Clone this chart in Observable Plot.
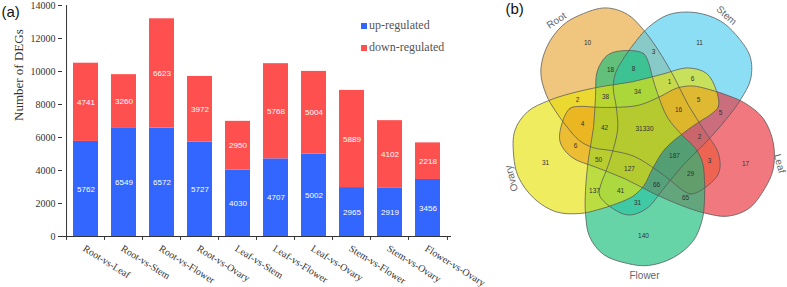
<!DOCTYPE html>
<html><head><meta charset="utf-8">
<script src="https://cdn.jsdelivr.net/npm/d3@7"></script>
<script src="https://cdn.jsdelivr.net/npm/@observablehq/plot@0.6"></script>
<style>
body{margin:0;background:#fff;}
#wrap{position:relative;width:787px;height:287px;overflow:hidden;background:#fff;}
#wrap svg{position:absolute;top:0;overflow:visible;}
.leg{position:absolute;font-family:'Liberation Serif','Times New Roman',serif;font-size:12px;line-height:12px;color:#555;white-space:nowrap;}
.sw{position:absolute;width:6px;height:6px;}
</style></head><body><div id="wrap"></div>
<script>
// ---------- data ----------
const comparisons = ["Root-vs-Leaf","Root-vs-Stem","Root-vs-Flower","Root-vs-Ovary","Leaf-vs-Stem","Leaf-vs-Flower","Leaf-vs-Ovary","Stem-vs-Flower","Stem-vs-Ovary","Flower-vs-Ovary"];
const upRegulated = [5762,6549,6572,5727,4030,4707,5002,2965,2919,3456];
const downRegulated = [4741,3260,6623,3972,2950,5768,5004,5889,4102,2218];
const regulationLabels = ["up-regulated","down-regulated"];
const yTicks = [0,2000,4000,6000,8000,10000,12000,14000];

const vennSets = ["Root","Stem","Leaf","Flower","Ovary"];
const vennCounts = [10,11,17,140,31,3,18,8,1,6,2,38,34,5,16,5,4,42,31330,2,6,50,127,187,3,29,137,41,66,65,31];

// ---------- layout (positions / geometry / styles) ----------
const vennLabelXY = [[587,42],[699,42],[745,163],[643,235],[545,162],[653,51],[610,69],[633,68],[669,81],[692,78],[577,99],[605,96],[637,91],[698,99],[678,109],[720,112],[582,123],[604,127],[644,128],[699,136],[575,145],[598,159],[629,168],[674,155],[709,160],[690,173],[594,190],[620,190],[656,184],[685,197],[637,202]];
const vennSetLabelXY = [[556,20,-34],[726,15,42],[779,163,75],[644,275,0],[511,178,-105]];
const vennColors = ["#E8A637","#4ECCF0","#EB2F3C","#15BD79","#E8E209"];
const vennAlpha = 0.65;
const vennCenter = [644, 131];
// outline of one petal (the Flower one) in page pixels; the other four are 72° rotations of it about vennCenter
const petal = [[627,50],[643,53],[648,62],[652,77],[657,93],[667,117],[682,135],[695,148],[702,162],[704,180],[704,200],[702,218],[693,240],[673,257],[648,265],[627,263],[603,254],[589,236],[585,213],[585,190],[588,158],[593,127],[595,96],[597,70],[608,54]];
const rotIndex = {Flower:0, Ovary:1, Root:2, Stem:3, Leaf:4};

const serif = "'Liberation Serif','Times New Roman',serif";
const sans = "'Liberation Sans',Arial,sans-serif";
const H = 287, W1 = 520, ML = 62, MR = 69, MT = 5, MB = 51;
const half = (W1 - ML - MR) / comparisons.length / 2;

const rows = comparisons.flatMap((c, i) => [
  {comparison: c, type: regulationLabels[0], value: upRegulated[i], base: 0},
  {comparison: c, type: regulationLabels[1], value: downRegulated[i], base: upRegulated[i]}
]);

const bar = Plot.plot({
  width: W1, height: H, marginLeft: ML, marginRight: MR, marginTop: MT, marginBottom: MB,
  style: {fontFamily: serif, fontSize: "10px", color: "#333", background: "transparent", overflow: "visible"},
  x: {domain: comparisons, paddingInner: 0.33, paddingOuter: 0.165, align: 0.5, axis: null},
  y: {domain: [0, 14000], axis: null},
  color: {domain: regulationLabels, range: ["#3366FF", "#FF5050"]},
  marks: [
    Plot.barY(rows, {x: "comparison", y1: "base", y2: d => d.base + d.value, fill: "type"}),
    Plot.text(rows, {x: "comparison", y: d => d.base + d.value / 2, text: d => String(d.value), fill: "white", fontSize: 8, fontFamily: sans}),
    Plot.axisY(yTicks, {tickSize: 4, tickPadding: 3, label: null, tickFormat: d => String(d), fontSize: 10, stroke: "#333"}),
    Plot.ruleY([0], {stroke: "#333"}),
    Plot.ruleX([comparisons[0]], {x: d => d, dx: -half, y1: 0, y2: 14000, stroke: "#333"}),
    Plot.ruleX(comparisons, {x: d => d, dx: -half, y1: 0, y2: -240, stroke: "#333"}),
    Plot.ruleX([comparisons[comparisons.length - 1]], {x: d => d, dx: half, y1: 0, y2: -240, stroke: "#333"}),
    Plot.text(comparisons, {x: d => d, y: () => 0, text: d => d, rotate: 32, textAnchor: "start", dx: -2, dy: 11, fontSize: 10, fill: "#333"}),
    Plot.text(["Number of DEGs"], {frameAnchor: "left", y: () => 7000, text: d => d, rotate: -90, dx: -44, fontSize: 13, fill: "#333"}),
    Plot.text(["(a)"], {frameAnchor: "top-left", text: d => d, textAnchor: "start", lineAnchor: "middle", dx: 1 - ML, dy: 6.2, fontSize: 15, fontFamily: sans, fill: "#111"})
  ]
});

function petalPoints(set) {
  const phi = rotIndex[set] * 72 * Math.PI / 180, c = Math.cos(phi), s = Math.sin(phi);
  const [cx, cy] = vennCenter;
  return petal.map(([px, py]) => {
    const dx = px - cx, dy = py - cy;
    return {set, x: cx + dx * c - dy * s, y: cy + dx * s + dy * c};
  });
}

const X0 = 492, W2 = 787 - X0;
const venn = Plot.plot({
  width: W2, height: H, margin: 0,
  style: {background: "transparent", fontFamily: sans, overflow: "visible"},
  x: {domain: [X0, X0 + W2], axis: null},
  y: {domain: [0, H], reverse: true, axis: null},
  marks: [
    ...vennSets.map((s, i) => Plot.line(petalPoints(s), {x: "x", y: "y", fill: vennColors[i], fillOpacity: vennAlpha, stroke: "none", curve: "catmull-rom-closed"})),
    ...vennSets.map(s => Plot.line(petalPoints(s), {x: "x", y: "y", stroke: "#555", strokeWidth: 0.75, curve: "catmull-rom-closed"})),
    Plot.text(vennCounts, {x: (d, i) => vennLabelXY[i][0], y: (d, i) => vennLabelXY[i][1], text: d => String(d), fontSize: 6.5, fill: "#333"}),
    Plot.text(vennSets, {x: (d, i) => vennSetLabelXY[i][0], y: (d, i) => vennSetLabelXY[i][1], rotate: (d, i) => vennSetLabelXY[i][2], text: d => d, fontSize: 10, fill: "#666"}),
    Plot.text(["(b)"], {x: () => 505, y: () => 8.5, text: d => d, textAnchor: "start", fontSize: 15, fill: "#111"})
  ]
});

const wrap = document.getElementById("wrap");
bar.style.left = "0px";
venn.style.left = X0 + "px";
wrap.appendChild(bar);
wrap.appendChild(venn);

const color = bar.scale("color");
const legendPos = [[361, 23, 369, 19], [361, 45, 369, 41]];
regulationLabels.forEach((lab, i) => {
  const sw = document.createElement("div");
  sw.className = "sw";
  sw.style.left = legendPos[i][0] + "px";
  sw.style.top = legendPos[i][1] + "px";
  sw.style.background = color.apply(lab);
  wrap.appendChild(sw);
  const t = document.createElement("div");
  t.className = "leg";
  t.style.left = legendPos[i][2] + "px";
  t.style.top = legendPos[i][3] + "px";
  t.textContent = lab;
  wrap.appendChild(t);
});
</script></body></html>
